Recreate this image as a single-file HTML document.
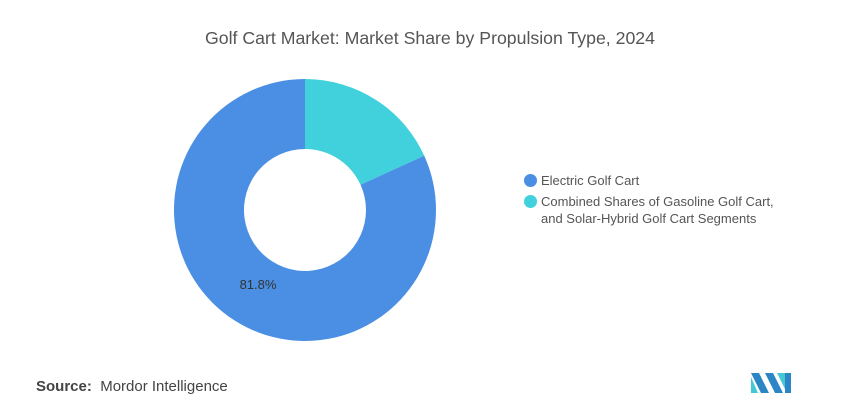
<!DOCTYPE html>
<html><head><meta charset="utf-8"><style>
body{margin:0;width:860px;height:420px;background:#fff;font-family:"Liberation Sans",sans-serif;overflow:hidden;position:relative}
.t{position:absolute;left:0;width:860px;top:28px;text-align:center;font-size:17.7px;color:#555}
.lg{position:absolute;left:524px;font-size:13px;color:#555;line-height:17px}
.dot{position:absolute;width:13px;height:13px;border-radius:50%}
.src{position:absolute;left:36px;top:378px;font-size:15px;color:#444}
</style></head><body>
<div class="t">Golf Cart Market: Market Share by Propulsion Type, 2024</div>
<svg id="c" width="860" height="420" style="position:absolute;left:0;top:0"></svg>
<div class="dot" style="left:524px;top:174px;background:#4a8fe3"></div>
<div class="lg" style="left:541px;top:172px">Electric Golf Cart</div>
<div class="dot" style="left:524px;top:195px;background:#40d1dc"></div>
<div class="lg" style="left:541px;top:193px">Combined Shares of Gasoline Golf Cart,<br>and Solar-Hybrid Golf Cart Segments</div>
<div class="src"><b>Source:</b>&nbsp; Mordor Intelligence</div>
<svg width="40" height="20" style="position:absolute;left:751px;top:373px">
<polygon points="0,0 8,0 18,20 10,20" fill="#2c86c6"/><polygon points="0,4 0,20 7,20" fill="#45c8d3"/>
<polygon points="14,0 22,0 32,20 24,20" fill="#2c86c6"/><polygon points="26,0 34,0 34,16" fill="#45c8d3"/><polygon points="34,0 40,0 40,20 34,20" fill="#2c86c6"/>
</svg>
<script>
const categories=["Electric Golf Cart","Combined Shares of Gasoline Golf Cart, and Solar-Hybrid Golf Cart Segments"];
const values=[81.8,18.2];
const colors=["#4a8fe3","#40d1dc"];
const svg=document.getElementById('c');const NS="http://www.w3.org/2000/svg";
const cx=305,cy=210,R=131,r=61;
const total=values.reduce((a,b)=>a+b,0);
const order=[1,0];let ang=0;
function pt(a,rad){return [cx+rad*Math.sin(a),cy-rad*Math.cos(a)];}
order.forEach(i=>{
 const a0=ang,a1=ang+values[i]/total*2*Math.PI;ang=a1;
 const large=(a1-a0)>Math.PI?1:0;
 const p0=pt(a0,R),p1=pt(a1,R),q1=pt(a1,r),q0=pt(a0,r);
 const p=document.createElementNS(NS,'path');
 p.setAttribute('d',`M${p0}A${R},${R} 0 ${large} 1 ${p1}L${q1}A${r},${r} 0 ${large} 0 ${q0}Z`);
 p.setAttribute('fill',colors[i]);
 
 
 svg.appendChild(p);
 if(i==0){const t=document.createElementNS(NS,'text');
  t.setAttribute('x',258);t.setAttribute('y',289);t.setAttribute('text-anchor','middle');
  t.setAttribute('font-size','13');t.setAttribute('fill','#333');t.textContent=values[i].toFixed(1)+'%';
  
  
  svg.appendChild(t);}
});
</script>
</body></html>
